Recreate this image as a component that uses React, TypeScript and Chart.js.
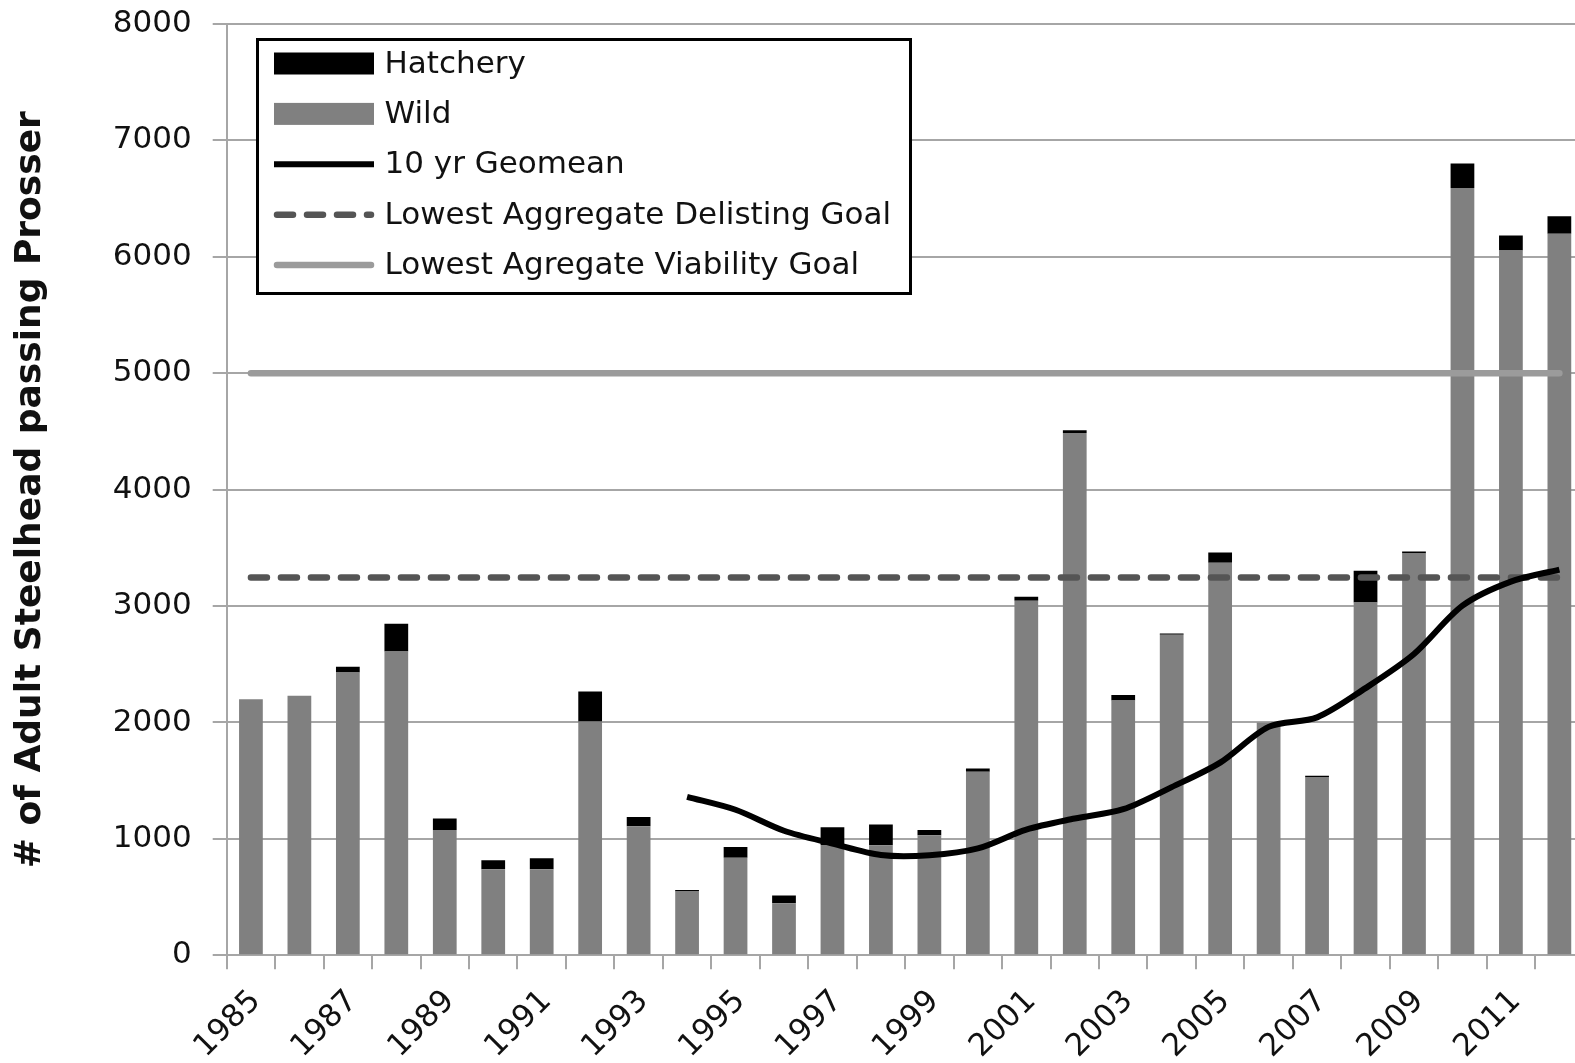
import React, { useEffect, useRef } from 'react';
import { Chart, registerables } from 'chart.js';

Chart.register(...registerables);

const years = [
  '1985', '1986', '1987', '1988', '1989', '1990', '1991', '1992', '1993', '1994',
  '1995', '1996', '1997', '1998', '1999', '2000', '2001', '2002', '2003', '2004',
  '2005', '2006', '2007', '2008', '2009', '2010', '2011', '2012',
];

const wild = [
  2200, 2230, 2430, 2610, 1077, 739, 739, 2009, 1109, 547,
  837, 447, 948, 946, 1032, 1576, 3045, 4487, 2189, 2753,
  3373, 2000, 1527, 3030, 3451, 6591, 6055, 6199,
];

const hatchery = [
  0, 0, 49, 238, 98, 78, 95, 257, 80, 15,
  94, 66, 152, 177, 45, 29, 35, 23, 46, 12,
  87, 0, 15, 274, 17, 210, 129, 149,
];

const geomean: (number | null)[] = [
  null, null, null, null, null, null, null, null, null, 1361,
  1250, 1070, 960, 862, 860, 918, 1080, 1175, 1255, 1445,
  1655, 1962, 2044, 2295, 2588, 3003, 3210, 3313,
];

const DELISTING_GOAL = 3245;
const VIABILITY_GOAL = 5000;
const delisting = years.map(() => DELISTING_GOAL);
const viability = years.map(() => VIABILITY_GOAL);

const LABELS = {
  hatchery: 'Hatchery',
  wild: 'Wild',
  geomean: '10 yr Geomean',
  delisting: 'Lowest Aggregate Delisting Goal',
  viability: 'Lowest Agregate Viability Goal',
};
// legend order (dataset indices)
const LEGEND_ORDER = [1, 0, 2, 3, 4];

const FONT = '"DejaVu Sans", sans-serif';
const GRID = '#a6a6a6';
const TEXT = '#111111';

const boxLegend = {
  id: 'boxLegend',
  afterDraw(chart: any) {
    const ctx = chart.ctx as CanvasRenderingContext2D;
    const x0 = 257.5, y0 = 39.5, w = 653, h = 254;
    ctx.save();
    ctx.fillStyle = '#ffffff';
    ctx.fillRect(x0, y0, w, h);
    ctx.lineWidth = 3;
    ctx.strokeStyle = '#000000';
    ctx.setLineDash([]);
    ctx.strokeRect(x0, y0, w, h);
    const sx0 = 274, sx1 = 374;
    LEGEND_ORDER.forEach((di, i) => {
      const ds = chart.data.datasets[di];
      const cy = 63.5 + i * 50.4;
      if (ds.type === 'bar') {
        ctx.fillStyle = ds.backgroundColor;
        ctx.fillRect(sx0, cy - 11, sx1 - sx0, 22);
      } else {
        ctx.beginPath();
        ctx.strokeStyle = ds.borderColor;
        ctx.lineWidth = ds.borderWidth;
        ctx.lineCap = ds.borderCapStyle || 'butt';
        ctx.setLineDash(ds.borderDash || []);
        const pad = ds.borderCapStyle === 'round' ? 3 : 0;
        ctx.moveTo(sx0 + pad, cy);
        ctx.lineTo(sx1 - pad, cy);
        ctx.stroke();
        ctx.setLineDash([]);
      }
      ctx.fillStyle = TEXT;
      ctx.font = `31px ${FONT}`;
      ctx.textBaseline = 'middle';
      ctx.textAlign = 'left';
      ctx.fillText(ds.label, 384.5, cy + 1);
    });
    ctx.restore();
  },
};

export default function App() {
  const ref = useRef<HTMLCanvasElement>(null);

  useEffect(() => {
    if (!ref.current) return;
    const chart = new Chart(ref.current, {
      type: 'bar',
      data: {
        labels: years,
        datasets: [
          {
            type: 'bar',
            label: LABELS.wild,
            data: wild,
            backgroundColor: '#808080',
            stack: 'bars',
            order: 2,
            barPercentage: 0.49,
            categoryPercentage: 1.0,
          },
          {
            type: 'bar',
            label: LABELS.hatchery,
            data: hatchery,
            backgroundColor: '#000000',
            stack: 'bars',
            order: 2,
            barPercentage: 0.49,
            categoryPercentage: 1.0,
          },
          {
            type: 'line',
            label: LABELS.geomean,
            data: geomean,
            borderColor: '#000000',
            borderWidth: 6,
            tension: 0.3,
            pointRadius: 0,
            borderCapStyle: 'butt',
            borderJoinStyle: 'round',
            stack: 'g',
            order: 0,
          },
          {
            type: 'line',
            label: LABELS.delisting,
            data: delisting,
            borderColor: '#555555',
            borderWidth: 6.5,
            borderDash: [16, 14],
            borderCapStyle: 'round',
            pointRadius: 0,
            stack: 'd',
            order: 1,
          },
          {
            type: 'line',
            label: LABELS.viability,
            data: viability,
            borderColor: '#9b9b9b',
            borderWidth: 6.5,
            borderCapStyle: 'round',
            pointRadius: 0,
            stack: 'v',
            order: 1,
          },
        ] as any,
      },
      options: {
        responsive: false,
        devicePixelRatio: 1,
        animation: false,
        layout: { padding: { top: 24, right: 6.4, left: 0, bottom: 0 } },
        plugins: {
          legend: { display: false },
          tooltip: { enabled: false },
        },
        scales: {
          x: {
            type: 'category',
            stacked: true,
            offset: true,
            grid: {
              display: true,
              offset: true,
              drawOnChartArea: false,
              drawTicks: true,
              tickLength: 14,
              color: GRID,
              lineWidth: 2,
            },
            border: { display: true, color: GRID, width: 2 },
            ticks: {
              autoSkip: false,
              minRotation: 45,
              maxRotation: 45,
              padding: 14,
              labelOffset: 5,
              color: TEXT,
              font: { family: FONT, size: 31 },
              callback: (_v: any, i: number) => (i % 2 === 0 ? years[i] : ''),
            },
            afterFit: (s: any) => {
              s.height = 107.7;
              s.paddingLeft = 0;
              s.paddingRight = 0;
            },
          },
          y: {
            stacked: true,
            min: 0,
            max: 8000,
            grid: {
              color: GRID,
              lineWidth: 2,
              drawTicks: true,
              tickLength: 14,
            },
            border: { display: true, color: GRID, width: 2 },
            ticks: {
              stepSize: 1000,
              padding: 21,
              color: TEXT,
              font: { family: FONT, size: 31 },
              callback: (v: any) => String(v),
            },
            title: {
              display: true,
              text: '# of Adult Steelhead passing Prosser',
              color: TEXT,
              font: { family: FONT, size: 36, weight: 'bold' },
              padding: { top: 9, bottom: 0 },
            },
            afterFit: (s: any) => {
              s.width = 226.7;
              s.paddingTop = 0;
              s.paddingBottom = 0;
            },
          },
        },
      } as any,
      plugins: [boxLegend],
    });
    return () => chart.destroy();
  }, []);

  return (
    <div
      style={{
        position: 'absolute',
        left: 0,
        top: 0,
        width: 1575,
        height: 1063,
        overflow: 'hidden',
        background: '#ffffff',
      }}
    >
      <canvas
        ref={ref}
        width={1590}
        height={1063}
        style={{ display: 'block', width: 1590, height: 1063 }}
      />
    </div>
  );
}
